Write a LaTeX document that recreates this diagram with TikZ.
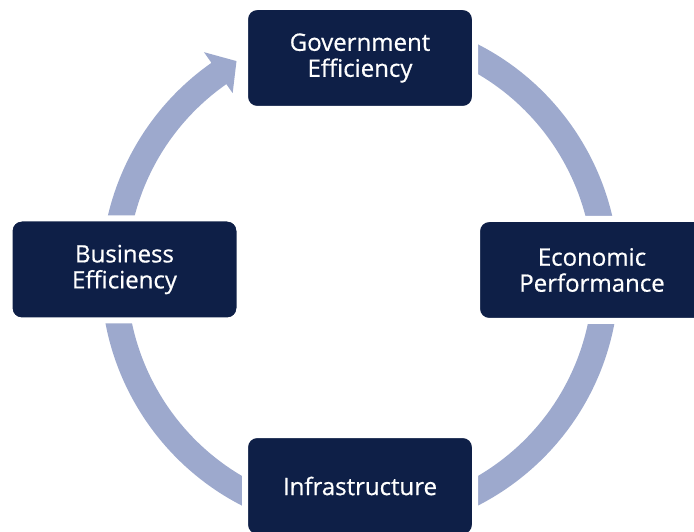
\documentclass[tikz,border=0pt]{standalone}
\usepackage{fontspec}
\setmainfont{Open Sans}[FakeBold=0.6]
\usetikzlibrary{calc}
\definecolor{boxnavy}{HTML}{0E1F47}
\definecolor{ringblue}{HTML}{9DA9CD}
\begin{document}
\begin{tikzpicture}[x=1pt,y=1pt,
  factor/.style={fill=boxnavy, draw=white, line width=6pt, rounded corners=12pt,
    minimum width=230pt, minimum height=102pt, inner sep=0pt, align=center,
    text=white, font=\fontsize{24}{26}\selectfont}]
\useasboundingbox (0,0) rectangle (694,531);
\clip (0,0) rectangle (694,531);
\coordinate (c) at (360,256);
% ring with arrowhead
\fill[ringblue] ($(c)+(80:259)$) arc[start angle=80, end angle=-235, radius=259]
  -- ($(c)+(125:272)$) -- ($(c)+(120:247)$) -- ($(c)+(125:222)$)
  -- ($(c)+(125:233)$) arc[start angle=-235, end angle=80, radius=233] -- cycle;
\node[factor] (gov) at (360,473) {Government\\Efficiency};
\node[factor] (eco) at (592,261) {Economic\\Performance};
\node[factor] (bus) at (124.5,261.5) {Business\\Efficiency};
\node[factor] (inf) at (360,45) {Infrastructure};
\end{tikzpicture}
\end{document}
